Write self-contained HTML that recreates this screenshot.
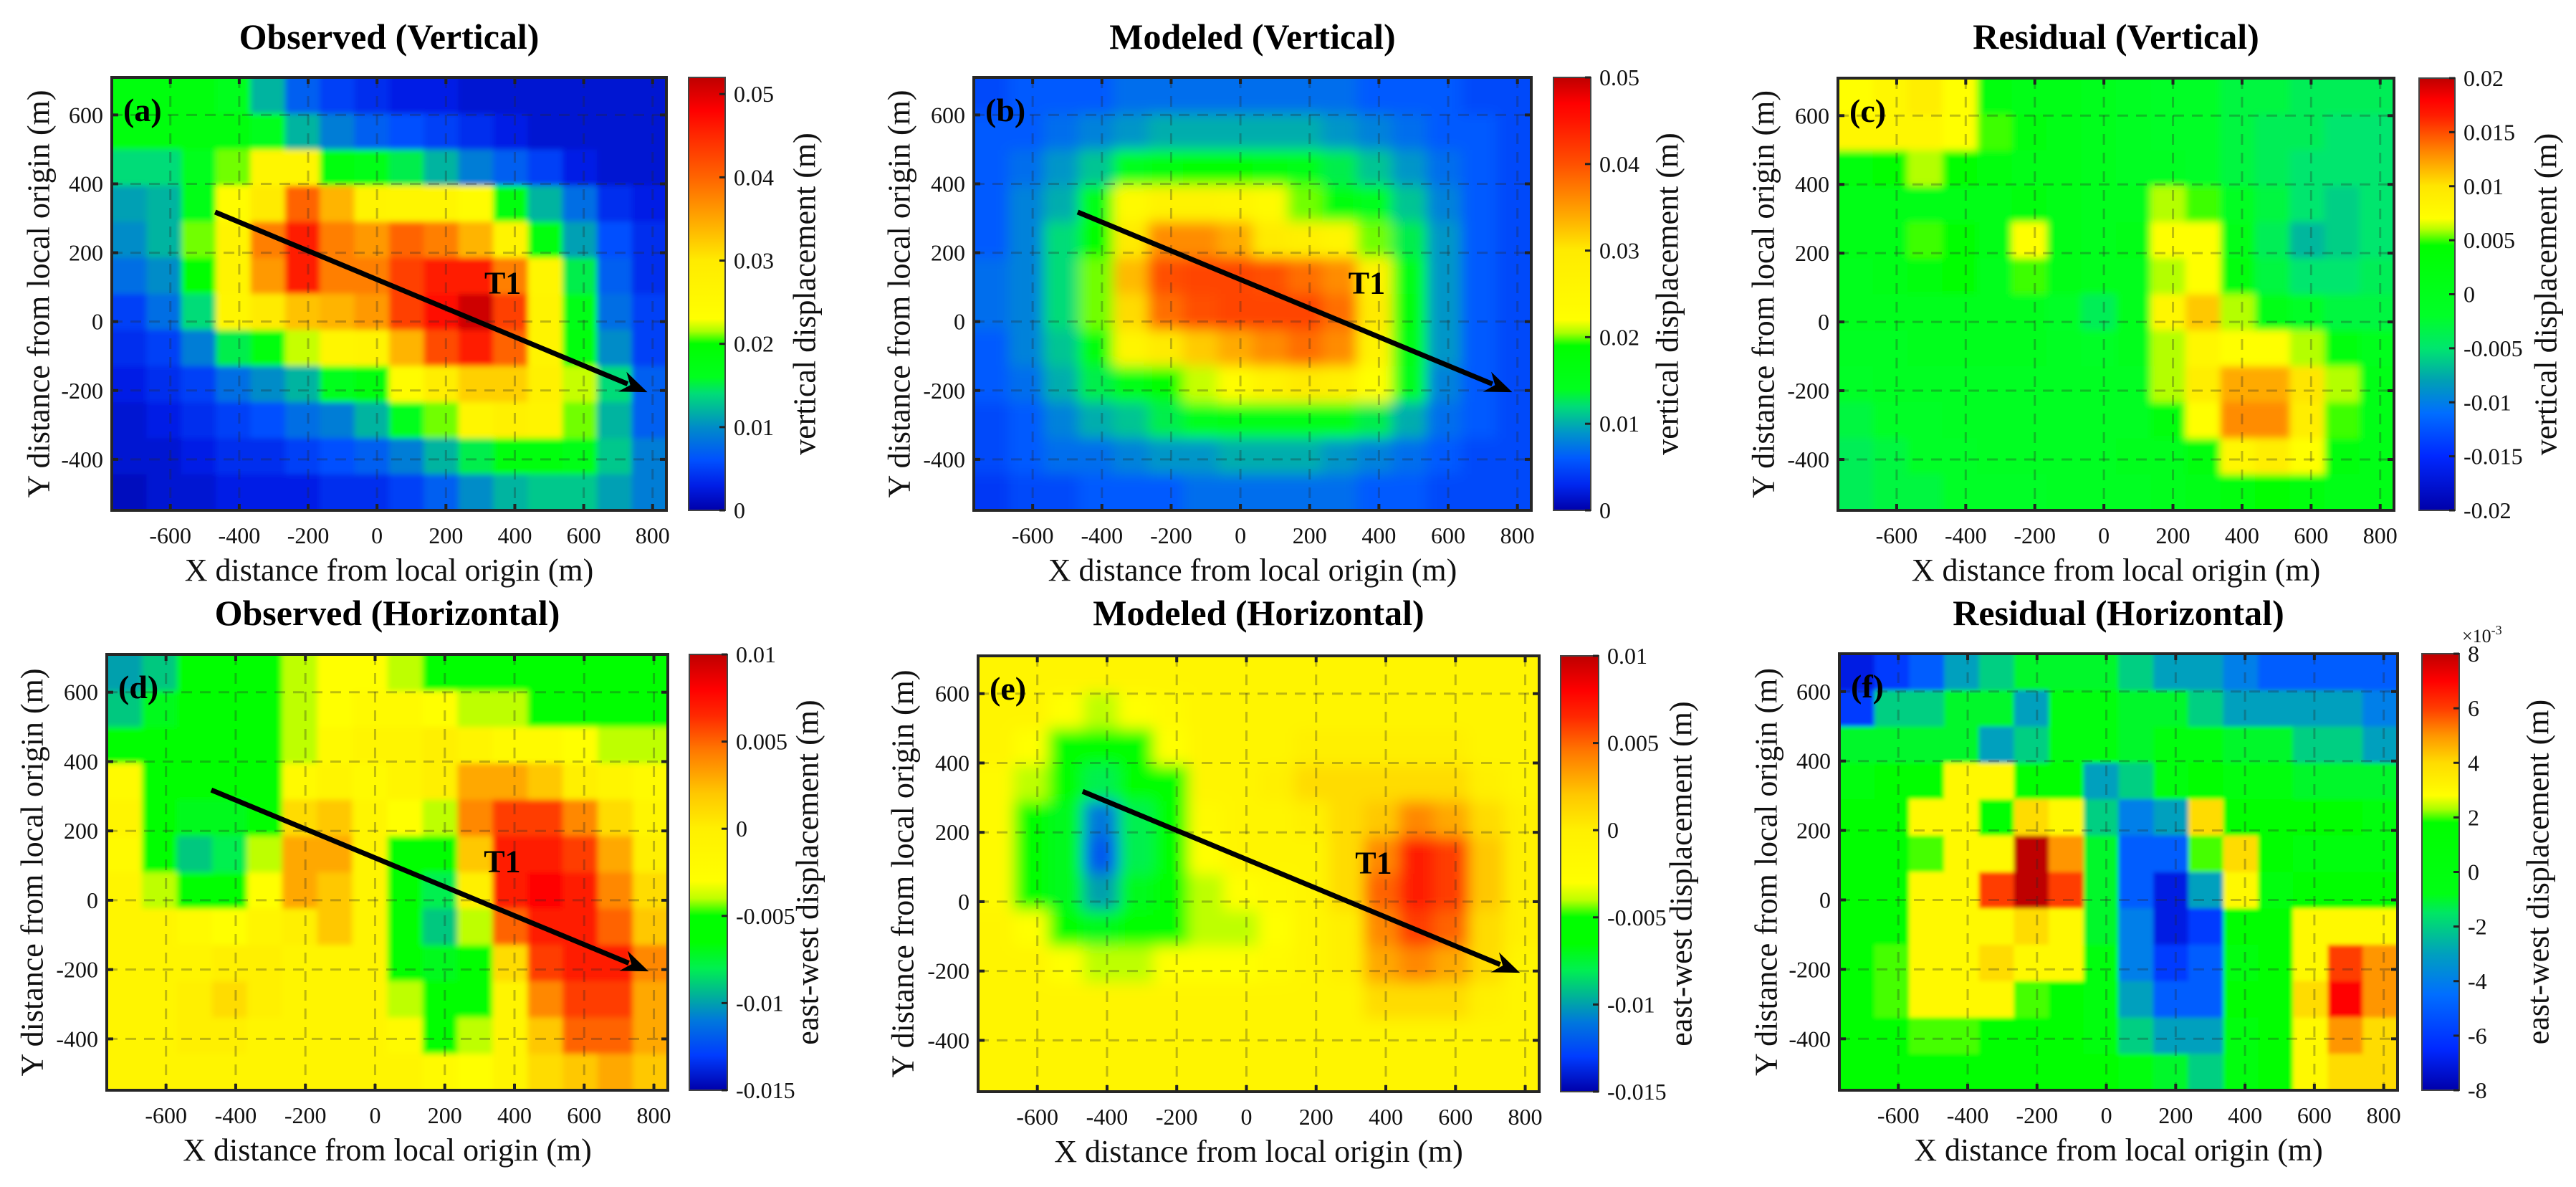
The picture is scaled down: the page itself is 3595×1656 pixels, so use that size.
<!DOCTYPE html>
<html><head><meta charset="utf-8">
<style>
html,body{margin:0;padding:0;background:#fff;}
svg{display:block;font-family:"Liberation Serif","DejaVu Serif",serif;}
</style></head>
<body>
<svg id="fig" xmlns="http://www.w3.org/2000/svg" width="3595" height="1656" viewBox="0 0 3595 1656"></svg>
<script>
// ---------- data (mm; panel f in 1e-3 m) ----------
const xTicks = [-600,-400,-200,0,200,400,600,800];
const yTicks = [-400,-200,0,200,400,600];
const xRange = [-770, 840];
const yRange = [-548, 709];
const arrowStart = [-470, 318];
const arrowEnd = [785, -205];
const t1Pos = [365, 115];

const obsVert = [
[18,18,18,16,12,7,5,4,3,3,2,2,2,2,2,2],
[18,18,18,18,16,12,9,7,6,5,4,3,2,2,2,2],
[14,14,16,21,26,26,18,17,15,12,9,7,5,3,2,2],
[11,12,17,24,30,40,34,27,26,26,24,18,12,8,4,3],
[10,12,21,27,38,46,38,36,40,38,34,27,18,11,6,4],
[8,10,20,27,36,46,38,38,43,46,46,38,26,15,7,4],
[5,8,14,26,30,33,34,36,43,47,51,43,27,17,8,5],
[4,5,9,15,18,22,26,27,34,42,46,40,27,19,10,5],
[3,4,5,8,10,12,16,18,24,29,32,32,28,22,14,7],
[2,3,4,5,6,8,9,12,16,21,26,28,27,21,12,7],
[2,2,3,4,4,5,6,7,9,12,15,18,18,17,13,9],
[1,2,2,3,3,3,4,4,5,7,10,12,13,13,11,9]];
const modVert = [
[5,6,6,6,7,7,7,7,7,7,7,6,6,6,5,5],
[6,6,7,8,9,10,10,10,10,10,9,8,7,6,6,5],
[6,7,9,11,14,17,18,18,17,15,13,11,9,7,6,5],
[6,8,10,15,24,27,27,26,24,20,17,14,11,8,6,5],
[6,8,12,18,30,36,36,34,30,28,26,20,13,9,6,5],
[7,8,12,20,33,40,41,41,40,38,36,27,16,9,6,5],
[7,8,12,20,31,38,40,41,41,41,38,30,17,9,6,5],
[6,8,11,17,26,30,32,34,36,38,36,27,16,9,6,5],
[6,7,10,13,16,19,21,23,27,30,28,22,14,8,6,5],
[5,6,8,10,11,13,14,15,16,16,15,13,10,7,6,5],
[5,6,7,7,8,9,9,10,10,10,9,8,7,6,5,5],
[4,5,5,6,6,6,7,7,7,7,7,6,6,5,5,5]];
const resVert = [
[7,8,9,7,2,1,1,0,-1,-2,-2,-3,-3,-4,-4,-4],
[8,8,8,7,5,2,1,0,-1,-2,-2,-3,-4,-4,-5,-5],
[3,4,6,4,2,1,1,0,-1,-1,-2,-3,-4,-5,-5,-5],
[1,1,1,1,1,2,1,0,0,6,5,-1,-3,-5,-6,-5],
[1,1,5,4,1,7,1,0,1,7,7,1,-4,-7,-6,-5],
[0,1,3,4,0,5,1,0,0,6,7,2,-3,-5,-5,-4],
[0,0,0,0,0,0,-2,-4,0,8,11,6,1,-2,-3,-3],
[-1,-1,0,0,0,0,-1,-2,0,6,8,7,7,6,2,0],
[-2,-1,-1,-1,-1,-1,-1,-1,-1,6,9,12,12,10,6,1],
[-3,-2,-2,-1,-1,-1,-1,-1,-1,2,7,13,13,9,5,1],
[-4,-3,-2,-2,-1,-1,-1,-1,0,0,3,8,9,7,2,1],
[-4,-3,-3,-2,-2,-2,-1,-1,-1,0,1,3,4,2,1,1]];
const obsHoriz = [
[-10,-9,-6,-6,-5,-4,-3,-3,-4,-5,-6,-6,-6,-6,-6,-6],
[-9,-7,-6,-6,-5,-4,-3,-2,-2,-3,-4,-4,-5,-5,-5,-6],
[-6,-6,-6,-6,-5,-4,-2,-1,-1,0,-1,-2,-2,-3,-4,-4],
[-2,-5,-6,-6,-5,-2,-1,-2,-1,0,3,3,2,0,-1,-2],
[-1,-5,-7,-7,-5,1,2,-1,-3,-4,4,6,6,4,1,-1],
[-2,-5,-9,-8,-4,3,3,-1,-5,-6,2,7,7,6,3,0],
[-1,-4,-6,-6,-3,3,2,-1,-6,-8,0,7,8,7,4,1],
[-1,-1,-2,-3,-1,0,2,-1,-6,-9,-4,5,7,7,5,2],
[-1,-1,-1,0,0,-1,-1,-1,-5,-7,-5,1,6,7,7,4],
[-1,-1,0,1,0,-1,-1,-1,-4,-6,-6,-1,4,6,6,3],
[-1,-1,0,0,-1,-1,-1,-1,-2,-5,-4,-1,2,5,5,3],
[-1,-1,-1,-1,-1,-1,-1,-1,-1,-2,-3,-1,1,2,3,2]];
const modHoriz = [
[-1,-1,-1,-1,-1,-1,-1,-1,-1,-1,-1,-1,-1,-1,-1,-1],
[-1,-1,-3,-4,-3,-2,-1,-1,-1,-1,-1,-1,-1,-1,-1,-1],
[-1,-3,-5,-6,-5,-3,-1,-1,-1,0,0,0,0,0,-1,-1],
[-2,-4,-6,-8,-6,-5,-1,-1,0,1,1,1,1,1,0,-1],
[-2,-5,-7,-11,-8,-6,-2,-1,-1,0,1,2,4,3,1,0],
[-2,-5,-7,-12,-8,-6,-3,-1,-1,-1,1,4,7,6,2,0],
[-2,-5,-7,-10,-7,-6,-4,-3,-2,-1,1,5,7,6,2,0],
[-1,-3,-6,-7,-6,-5,-4,-4,-3,-1,0,4,6,5,1,0],
[-1,-1,-3,-4,-4,-3,-3,-3,-2,-1,0,3,4,3,1,-1],
[-1,-1,-1,-1,-1,-1,-1,-1,-1,-1,-1,1,1,1,0,-1],
[-1,-1,-1,-1,-1,-1,-1,-1,-1,-1,-1,-1,-1,-1,-1,-1],
[-1,-1,-1,-1,-1,-1,-1,-1,-1,-1,-1,-1,-1,-1,-1,-1]];
const resHoriz = [
[-7,-6,-5,-3,-2,-1,-1,-1,-2,-3,-3,-4,-5,-5,-5,-5],
[-6,-2,-2,-1,-1,-3,0,0,-1,-1,-2,-3,-3,-3,-3,-4],
[-1,-1,-1,-1,-3,-2,0,0,-1,0,0,-1,-1,-2,-2,-3],
[0,1,1,3,3,1,1,-3,-2,0,1,0,0,-1,-1,-1],
[1,1,3,3,1,4,3,-2,-4,-3,4,1,1,1,1,0],
[1,1,2,3,3,8,5,-1,-5,-5,2,4,1,0,0,0],
[1,1,3,3,6,8,6,-1,-5,-7,-3,3,0,1,1,1],
[1,1,3,3,3,4,3,-1,-4,-7,-6,1,1,3,3,3],
[1,2,3,3,4,3,3,0,-4,-6,-5,0,1,3,6,5],
[1,2,3,3,3,2,1,0,-3,-5,-5,1,1,4,7,5],
[1,1,2,2,1,1,1,0,-2,-3,-3,0,1,3,5,4],
[1,1,1,1,1,1,1,1,0,-1,-2,0,1,3,4,4]];

const cbTicksA = [0,10,20,30,40,50];
const cbLabelsA = ['0','0.01','0.02','0.03','0.04','0.05'];
const cbTicksC = [-20,-15,-10,-5,0,5,10,15,20];
const cbLabelsC = ['-0.02','-0.015','-0.01','-0.005','0','0.005','0.01','0.015','0.02'];
const cbTicksD = [-15,-10,-5,0,5,10];
const cbLabelsD = ['-0.015','-0.01','-0.005','0','0.005','0.01'];
const cbTicksF = [-8,-6,-4,-2,0,2,4,6,8];
const cbLabelsF = ['-8','-6','-4','-2','0','2','4','6','8'];

// ---------- colormaps (styles) ----------
const stopsA=[[0,0,0,170],[3,0,30,230],[6,0,80,255],[10,0,140,200],[14,0,220,120],[16,0,255,30],[20,0,255,0],[21.5,170,255,0],[23,255,255,0],[30,255,235,0],[34,255,180,0],[40,255,100,0],[45,255,40,0],[48,255,0,0],[52,190,0,0]];
const stopsB=[[0,0,0,170],[3,0,40,240],[6,0,90,255],[9,0,150,200],[12,0,220,120],[14,0,255,30],[19,0,255,0],[20.5,170,255,0],[22,255,255,0],[30,255,235,0],[34,255,170,0],[40,255,80,0],[45,255,20,0],[47,255,0,0],[50,190,0,0]];
const stopsC=[[-20,0,0,170],[-15,0,40,255],[-11,0,110,255],[-8,0,160,180],[-5,0,230,110],[-2,0,255,40],[4.5,0,255,0],[6,180,255,0],[7,255,255,0],[10,255,230,0],[13,255,140,0],[16.5,255,30,0],[18,255,0,0],[20,190,0,0]];
const stopsD=[[-15,0,0,170],[-13,0,60,255],[-11,0,120,220],[-9.5,0,180,150],[-8,0,240,80],[-6.5,0,255,0],[-5,0,255,0],[-4,190,255,0],[-3,255,255,0],[0,255,240,0],[2,255,200,0],[4.5,255,120,0],[6.5,255,40,0],[8,255,0,0],[10,190,0,0]];
const stopsF=[[-8,0,0,170],[-6.5,0,40,255],[-4.5,0,110,255],[-3,0,160,190],[-1.5,0,230,100],[-0.8,0,255,20],[1.8,0,255,0],[2.3,170,255,0],[2.8,255,255,0],[4,255,220,0],[5,255,150,0],[6,255,60,0],[7,255,0,0],[8,190,0,0]];

const panels=[
 {key:'a',title:'Observed (Vertical)',L:156,R:930,T:108,B:712,cbL:961,cbR:1012,data:obsVert,stops:stopsA,cmin:0,cmax:52,ticks:cbTicksA,labels:cbLabelsA,cbl:'vertical displacement (m)',ylx:54,cblx:1123,arrow:true,blur:4},
 {key:'b',title:'Modeled (Vertical)',L:1359,R:2137,T:108,B:712,cbL:2168,cbR:2220,data:modVert,stops:stopsB,cmin:0,cmax:50,ticks:cbTicksA,labels:cbLabelsA,cbl:'vertical displacement (m)',ylx:1255,cblx:2327,arrow:true,blur:9},
 {key:'c',title:'Residual (Vertical)',L:2565,R:3341,T:109,B:712,cbL:3376,cbR:3426,data:resVert,stops:stopsC,cmin:-20,cmax:20,ticks:cbTicksC,labels:cbLabelsC,cbl:'vertical displacement (m)',ylx:2461,cblx:3553,arrow:false,blur:5},
 {key:'d',title:'Observed (Horizontal)',L:149,R:932,T:913,B:1521,cbL:962,cbR:1015,data:obsHoriz,stops:stopsD,cmin:-15,cmax:10,ticks:cbTicksD,labels:cbLabelsD,cbl:'east-west displacement (m)',ylx:45,cblx:1127,arrow:true,blur:4},
 {key:'e',title:'Modeled (Horizontal)',L:1365,R:2148,T:915,B:1523,cbL:2178,cbR:2231,data:modHoriz,stops:stopsD,cmin:-15,cmax:10,ticks:cbTicksD,labels:cbLabelsD,cbl:'east-west displacement (m)',ylx:1260,cblx:2346,arrow:true,blur:10},
 {key:'f',title:'Residual (Horizontal)',L:2567,R:3346,T:912,B:1521,cbL:3380,cbR:3432,data:resHoriz,stops:stopsF,cmin:-8,cmax:8,ticks:cbTicksF,labels:cbLabelsF,cbl:'east-west displacement (m)',ylx:2465,cblx:3542,arrow:false,blur:3,exp:true}
];

const NS='http://www.w3.org/2000/svg';
const svg=document.getElementById('fig');
function mk(tag,attrs,parent){const e=document.createElementNS(NS,tag);for(const k in attrs)e.setAttribute(k,attrs[k]);(parent||svg).appendChild(e);return e;}
function cmap(stops,v){
  if(v<=stops[0][0])return `rgb(${stops[0][1]},${stops[0][2]},${stops[0][3]})`;
  for(let i=1;i<stops.length;i++){if(v<=stops[i][0]){const a=stops[i-1],b=stops[i];const t=(v-a[0])/(b[0]-a[0]);
    return `rgb(${Math.round(a[1]+t*(b[1]-a[1]))},${Math.round(a[2]+t*(b[2]-a[2]))},${Math.round(a[3]+t*(b[3]-a[3]))})`;}}
  const s=stops[stops.length-1];return `rgb(${s[1]},${s[2]},${s[3]})`;}

const defs=mk('defs',{});
panels.forEach((p,pi)=>{
  const sx=v=>p.L+(v-xRange[0])/(xRange[1]-xRange[0])*(p.R-p.L);
  const sy=v=>p.T+(yRange[1]-v)/(yRange[1]-yRange[0])*(p.B-p.T);
  const g=mk('g',{});
  
  
  // clip + blur
  const cp=mk('clipPath',{id:'clip'+pi},defs);
  mk('rect',{x:p.L,y:p.T,width:p.R-p.L,height:p.B-p.T},cp);
  const f=mk('filter',{id:'blur'+pi,x:'-10%',y:'-10%',width:'120%',height:'120%'},defs);
  mk('feGaussianBlur',{stdDeviation:p.blur},f);
  const clipG=mk('g',{'clip-path':`url(#clip${pi})`},g);
  const hm=mk('g',{filter:`url(#blur${pi})`},clipG);
  
  
  const rows=p.data.length, cols=p.data[0].length;
  const dx=(xRange[1]-xRange[0])/cols, dy=(yRange[1]-yRange[0])/rows;
  for(let r=0;r<rows;r++)for(let c=0;c<cols;c++){
    const x0=xRange[0]+c*dx, x1=x0+dx, y1=yRange[1]-r*dy, y0=y1-dy;
    let px0=sx(x0),px1=sx(x1),py0=sy(y1),py1=sy(y0);
    if(c===0)px0-=40; if(c===cols-1)px1+=40; if(r===0)py0-=40; if(r===rows-1)py1+=40;
    const cell=mk('rect',{x:px0,y:py0,width:px1-px0+0.8,height:py1-py0+0.8,fill:cmap(p.stops,p.data[r][c])},hm);
    
    
  }
  // grid
  xTicks.forEach(t=>{const l=mk('line',{x1:sx(t),x2:sx(t),y1:p.T,y2:p.B,stroke:'rgba(40,40,40,0.3)','stroke-width':3,'stroke-dasharray':'15 11'},g);
    });
  yTicks.forEach(t=>{const l=mk('line',{x1:p.L,x2:p.R,y1:sy(t),y2:sy(t),stroke:'rgba(40,40,40,0.3)','stroke-width':3,'stroke-dasharray':'15 11'},g);
    });
  // ticks
  xTicks.forEach(t=>{const x=sx(t);
    mk('line',{x1:x,x2:x,y1:p.T,y2:p.T+9,stroke:'#222','stroke-width':4},g);
    mk('line',{x1:x,x2:x,y1:p.B,y2:p.B-9,stroke:'#222','stroke-width':4},g);
    const tx=mk('text',{x:x,y:p.B+46,'font-size':32,'text-anchor':'middle',fill:'#111'},g);tx.textContent=t;
    });
  yTicks.forEach(t=>{const y=sy(t);
    mk('line',{x1:p.L,x2:p.L+9,y1:y,y2:y,stroke:'#222','stroke-width':4},g);
    mk('line',{x1:p.R,x2:p.R-9,y1:y,y2:y,stroke:'#222','stroke-width':4},g);
    const tx=mk('text',{x:p.L-12,y:y+11,'font-size':32,'text-anchor':'end',fill:'#111'},g);tx.textContent=t;
    });
  const box=mk('rect',{x:p.L,y:p.T,width:p.R-p.L,height:p.B-p.T,fill:'none',stroke:'#262626','stroke-width':4},g);
  
  // titles & labels
  const cx=(p.L+p.R)/2;
  const ti=mk('text',{x:cx,y:p.key<'d'?68:872,'font-size':50,'font-weight':'bold','text-anchor':'middle',fill:'#000'},g);ti.textContent=p.title;
  
  const xl=mk('text',{x:cx,y:p.B+98,'font-size':44,'text-anchor':'middle',fill:'#111'},g);xl.textContent='X distance from local origin (m)';
  
  const cy=(p.T+p.B)/2;
  const yl=mk('text',{x:p.ylx,y:cy,'font-size':44,'text-anchor':'middle','dominant-baseline':'central',transform:`rotate(-90 ${p.ylx} ${cy})`,fill:'#111'},g);yl.textContent='Y distance from local origin (m)';
  
  const lt=mk('text',{x:p.L+16,y:p.T+61,'font-size':46,'font-weight':'bold',fill:'#000'},g);lt.textContent='('+p.key+')';
  
  // arrow
  if(p.arrow){
    const x1=sx(arrowStart[0]),y1=sy(arrowStart[1]),x2=sx(arrowEnd[0]),y2=sy(arrowEnd[1]);
    const ang=Math.atan2(y2-y1,x2-x1),hl=38,hw=15;
    const bx=x2-hl*Math.cos(ang),by=y2-hl*Math.sin(ang);
    const ag=mk('g',{},g);
    mk('line',{x1:x1,y1:y1,x2:bx+8*Math.cos(ang),y2:by+8*Math.sin(ang),stroke:'#000','stroke-width':7},ag);
    const px=-Math.sin(ang),py=Math.cos(ang);
    mk('polygon',{points:`${x2},${y2} ${bx+hw*px},${by+hw*py} ${bx+12*Math.cos(ang)},${by+12*Math.sin(ang)} ${bx-hw*px},${by-hw*py}`,fill:'#000'},ag);
    const t1=mk('text',{x:sx(t1Pos[0]),y:sy(t1Pos[1])+16,'font-size':44,'font-weight':'bold','text-anchor':'middle',fill:'#000'},g);t1.textContent='T1';
    
  }
  // colorbar
  const gr=mk('linearGradient',{id:'cb'+pi,x1:0,y1:1,x2:0,y2:0},defs);
  p.stops.forEach(s=>mk('stop',{offset:(s[0]-p.cmin)/(p.cmax-p.cmin),'stop-color':`rgb(${s[1]},${s[2]},${s[3]})`},gr));
  const cbg=mk('g',{},g);
  mk('rect',{x:p.cbL,y:p.T,width:p.cbR-p.cbL,height:p.B-p.T,fill:`url(#cb${pi})`,stroke:'#444','stroke-width':2},cbg);
  const cs=v=>p.B-(v-p.cmin)/(p.cmax-p.cmin)*(p.B-p.T);
  p.ticks.forEach((t,i)=>{const y=cs(t);
    mk('line',{x1:p.cbR-8,x2:p.cbR,y1:y,y2:y,stroke:'#222','stroke-width':3},cbg);
    const tx=mk('text',{x:p.cbR+12,y:y+11,'font-size':32,fill:'#111'},cbg);tx.textContent=p.labels[i];
    });
  const cl=mk('text',{x:p.cblx,y:cy,'font-size':44,'text-anchor':'middle','dominant-baseline':'central',transform:`rotate(-90 ${p.cblx} ${cy})`,fill:'#111'},cbg);cl.textContent=p.cbl;
  
  if(p.exp){const ex=mk('text',{x:p.cbR+4,y:p.T-16,'font-size':26,fill:'#111'},cbg);
    ex.innerHTML='×10<tspan dy="-11" font-size="18">-3</tspan>';
    }
});
</script>
</body></html>
